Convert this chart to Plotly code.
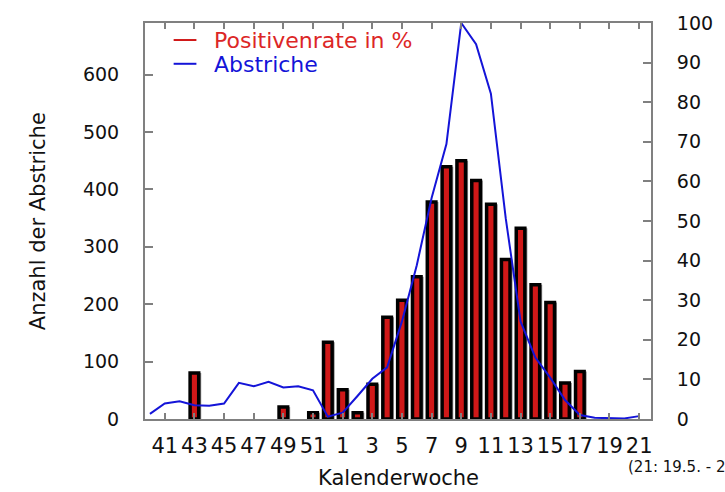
import plotly.graph_objects as go

# ---- data ----
weeks = [40, 41, 42, 43, 44, 45, 46, 47, 48, 49, 50, 51, 52,
         1, 2, 3, 4, 5, 6, 7, 8, 9, 10, 11, 12, 13, 14, 15, 16, 17, 18, 19, 20, 21]
positive_rate = [None, None, None, 11.6, None, None, None, None, None, 3.0, None, 1.6, 19.4,
                 7.4, 1.6, 8.8, 25.7, 30.0, 35.9, 54.8, 63.7, 65.2, 60.2, 54.2, 40.3,
                 48.2, 33.9, 29.4, 9.1, 12.0, None, None, None, None]
swabs = [9, 27, 31, 24, 23, 27, 63, 57, 65, 55, 57, 50, 4,
         11, 40, 70, 90, 170, 268, 385, 479, 690, 653, 567, 350,
         170, 107, 72, 33, 7, 2, 1, 1, 5]
tick_weeks = [41, 43, 45, 47, 49, 51, 1, 3, 5, 7, 9, 11, 13, 15, 17, 19, 21]

xpos = list(range(len(weeks)))
tickvals = [weeks.index(w) for w in tick_weeks]
ticktext = [str(w) for w in tick_weeks]

FONT = "DejaVu Sans"
RED = "#d01818"
RED_TXT = "#dc2626"
BLUE = "#1414d8"
GRAY = "#808080"

bar_w = 0.58
shift = 0.17

fig = go.Figure()
# gray shadow behind the bars
fig.add_trace(go.Bar(x=xpos, y=positive_rate, width=bar_w, offset=-bar_w / 2 + shift,
                     marker=dict(color="#8c8c8c", line=dict(width=0)),
                     yaxis="y", showlegend=False, hoverinfo="skip"))
fig.add_trace(go.Bar(x=xpos, y=positive_rate, width=bar_w, offset=-bar_w / 2,
                     marker=dict(color=RED, line=dict(color="black", width=3.5)),
                     yaxis="y", name="Positivenrate in %", showlegend=False))
fig.add_trace(go.Scatter(x=xpos, y=swabs, mode="lines", yaxis="y2",
                         line=dict(color=BLUE, width=2), name="Abstriche",
                         showlegend=False))

fig.update_layout(
    width=725, height=492,
    margin=dict(l=145, r=68, t=17, b=73),
    paper_bgcolor="white", plot_bgcolor="white",
    barmode="overlay",
    font=dict(family=FONT, size=20, color="#111"),
    xaxis=dict(range=[-0.333, 33.8], tickmode="array", tickvals=tickvals,
               ticktext=ticktext, tickangle=0, ticks="inside", ticklen=6,
               tickcolor=GRAY, tickwidth=1.5, showline=True, linecolor=GRAY,
               linewidth=2, mirror="ticks", showgrid=False, zeroline=False,
               tickfont=dict(size=21), ticklabelstandoff=7),
    yaxis=dict(side="right", range=[0, 100], tickvals=list(range(0, 101, 10)),
               ticks="inside", ticklen=8, tickcolor=GRAY, tickwidth=1.5,
               showline=True, linecolor=GRAY, linewidth=2, showgrid=False,
               zeroline=False, tickfont=dict(size=19), ticklabelstandoff=20),
    yaxis2=dict(side="left", overlaying="y", range=[0, 690],
                tickvals=list(range(0, 601, 100)), ticks="inside", ticklen=8,
                tickcolor=GRAY, tickwidth=1.5, showline=True, linecolor=GRAY,
                linewidth=2, showgrid=False, zeroline=False,
                tickfont=dict(size=19), ticklabelstandoff=20),
)

annotations = [
    dict(text="Anzahl der Abstriche", xref="paper", yref="paper", x=-0.211, y=0.5,
         textangle=-90, showarrow=False, xanchor="center", yanchor="middle",
         font=dict(size=21)),
    dict(text="Kalenderwoche", xref="paper", yref="paper", x=0.5, y=-0.148,
         showarrow=False, xanchor="center", yanchor="middle", font=dict(size=21)),
    dict(text="(21: 19.5. - 25.5.)", xref="paper", yref="paper", x=0.951, y=-0.122,
         showarrow=False, xanchor="left", yanchor="middle", font=dict(size=15)),
    dict(text="Positivenrate in %", xref="paper", yref="paper", x=0.133, y=0.955,
         showarrow=False, xanchor="left", yanchor="middle", font=dict(size=22, color=RED_TXT)),
    dict(text="Abstriche", xref="paper", yref="paper", x=0.133, y=0.895,
         showarrow=False, xanchor="left", yanchor="middle", font=dict(size=22, color=BLUE)),
]
fig.update_layout(annotations=annotations)
fig.add_shape(type="line", xref="paper", yref="paper", x0=0.0566, x1=0.1016,
              y0=0.957, y1=0.957, line=dict(color=RED, width=2))
fig.add_shape(type="line", xref="paper", yref="paper", x0=0.0566, x1=0.1016,
              y0=0.897, y1=0.897, line=dict(color=BLUE, width=2))

fig.write_html("out.html")
